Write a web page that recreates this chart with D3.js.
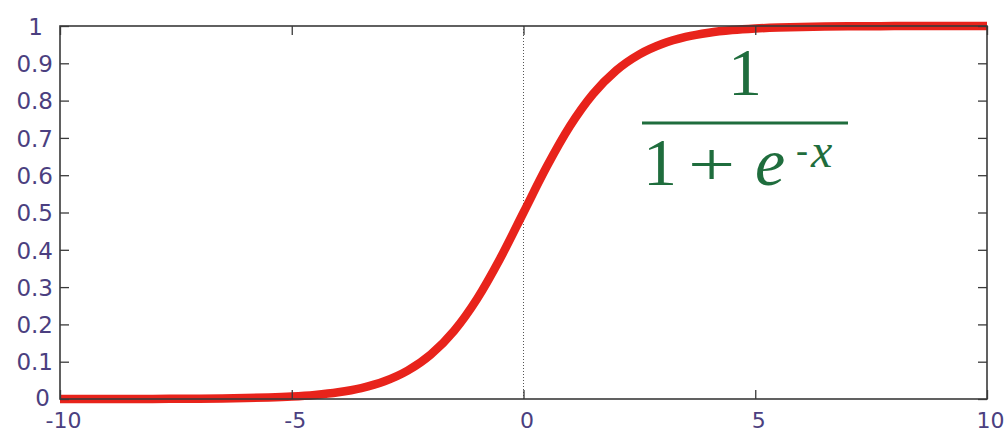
<!DOCTYPE html>
<html><head><meta charset="utf-8">
<script src="https://cdn.jsdelivr.net/npm/d3@7"></script>
<style>html,body{margin:0;padding:0;background:#fff;}svg{display:block;}</style>
</head><body>
<svg id="c" width="1008" height="434"></svg>
<script>
// Data
const xValues = [-10,-9.5,-9,-8.5,-8,-7.5,-7,-6.5,-6,-5.5,-5,-4.5,-4,-3.5,-3,-2.5,-2,-1.5,-1,-0.5,0,0.5,1,1.5,2,2.5,3,3.5,4,4.5,5,5.5,6,6.5,7,7.5,8,8.5,9,9.5,10];
const yValues = [0.0000,0.0001,0.0001,0.0002,0.0003,0.0006,0.0009,0.0015,0.0025,0.0041,0.0067,0.0110,0.0180,0.0293,0.0474,0.0759,0.1192,0.1824,0.2689,0.3775,0.5000,0.6225,0.7311,0.8176,0.8808,0.9241,0.9526,0.9707,0.9820,0.9890,0.9933,0.9959,0.9975,0.9985,0.9991,0.9994,0.9997,0.9998,0.9999,0.9999,1.0000];
const xTicks = [-10,-5,0,5,10];
const yTicks = [0,0.1,0.2,0.3,0.4,0.5,0.6,0.7,0.8,0.9,1];
const xTickLabels = ["-10","-5","0","5","10"];
const yTickLabels = ["0","0.1","0.2","0.3","0.4","0.5","0.6","0.7","0.8","0.9","1"];

const svg = d3.select("#c");
const L = 60, R = 987, T = 26, B = 399;
const x = d3.scaleLinear().domain([-10,10]).range([L,R]);
const y = d3.scaleLinear().domain([0,1]).range([B,T]);
const labelColor = "#4b3f80";
const axisColor = "#3a3a3a";
const tickLen = 9;

// dotted vertical line at x=0
svg.append("line").attr("x1",x(0)).attr("x2",x(0)).attr("y1",y(1)).attr("y2",y(0))
  .attr("stroke","#555").attr("stroke-width",1).attr("stroke-dasharray","1,2");

// curve
const pts = xValues.map((v,i)=>[v,yValues[i]]);
svg.append("path").datum(pts)
  .attr("d", d3.line().x(d=>x(d[0])).y(d=>y(d[1])).curve(d3.curveMonotoneX))
  .attr("fill","none").attr("stroke","#e8231b").attr("stroke-width",8.5)
  .attr("stroke-linecap","butt").attr("stroke-linejoin","round");

// axes (box with inward ticks)
function styleAxis(g){
  g.select(".domain").remove();
  g.selectAll(".tick line").attr("stroke",axisColor).attr("stroke-width",1.3);
}
const fontFam = "'DejaVu Sans', sans-serif";
const gB = svg.append("g").attr("transform",`translate(0,${B})`)
  .call(d3.axisBottom(x).tickValues(xTicks).tickSizeInner(-tickLen).tickSizeOuter(0).tickPadding(0).tickFormat((d,i)=>xTickLabels[i]));
styleAxis(gB);
gB.selectAll(".tick text").attr("fill",labelColor).attr("font-family",fontFam).attr("font-size",22)
  .attr("dy",null).attr("y",29).attr("x",3);
const gT = svg.append("g").attr("transform",`translate(0,${T})`)
  .call(d3.axisTop(x).tickValues(xTicks).tickSizeInner(-tickLen).tickSizeOuter(0).tickFormat(""));
styleAxis(gT);
const gL = svg.append("g").attr("transform",`translate(${L},0)`)
  .call(d3.axisLeft(y).tickValues(yTicks).tickSizeInner(-tickLen).tickSizeOuter(0).tickPadding(0).tickFormat((d,i)=>yTickLabels[i]));
styleAxis(gL);
gL.selectAll(".tick text").attr("fill",labelColor).attr("font-family",fontFam).attr("font-size",23)
  .attr("x",-7).attr("dy","0.36em");
gL.selectAll(".tick text").filter((d)=>d===1).attr("x",-17);
gL.selectAll(".tick text").filter((d)=>d===0).attr("x",-10).attr("dy","0.3em");
const gR = svg.append("g").attr("transform",`translate(${R},0)`)
  .call(d3.axisRight(y).tickValues(yTicks).tickSizeInner(-tickLen).tickSizeOuter(0).tickFormat(""));
styleAxis(gR);

svg.append("rect").attr("x",L).attr("y",T).attr("width",R-L).attr("height",B-T)
  .attr("fill","none").attr("stroke",axisColor).attr("stroke-width",1.6);

// formula annotation
const green = "#1f6d3d";
const serif = "'Liberation Serif', 'Times New Roman', serif";
const f = svg.append("g").attr("fill",green).attr("font-family",serif);
f.append("text").attr("x",745).attr("y",95).attr("text-anchor","middle").attr("font-size",68).text("1");
f.append("rect").attr("x",642).attr("y",121.5).attr("width",206).attr("height",3).attr("fill",green);
f.append("text").attr("x",643).attr("y",185).attr("font-size",68).text("1");
f.append("text").attr("transform","translate(688,185) scale(1.35,1)").attr("font-size",62).text("+");
f.append("text").attr("x",755).attr("y",185).attr("font-size",68).attr("font-style","italic").text("e");
f.append("text").attr("x",796).attr("y",162).attr("font-size",36).text("-");
f.append("text").attr("x",811).attr("y",167).attr("font-size",48).attr("font-style","italic").text("x");
</script>
</body></html>
